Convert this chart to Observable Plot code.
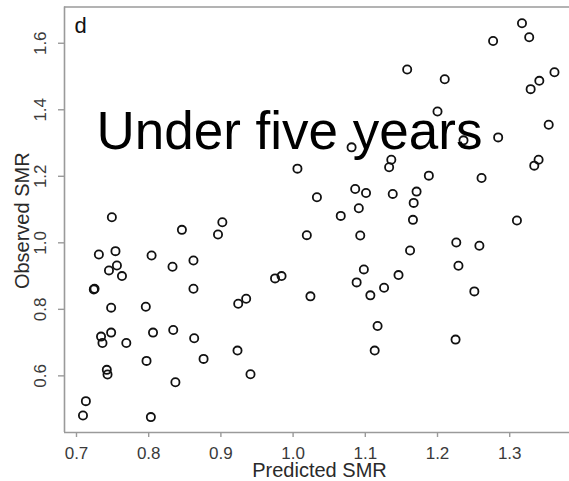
<!DOCTYPE html>
<html>
<head>
<meta charset="utf-8">
<script src="https://cdn.jsdelivr.net/npm/d3@7"></script>
<script src="https://cdn.jsdelivr.net/npm/@observablehq/plot@0.6"></script>
<style>
  html, body { margin: 0; padding: 0; background: #fff; }
</style>
</head>
<body>
<div id="chart"></div>
<script>
// Predicted SMR (x) and observed SMR (y) for each area
const predicted = [
  0.749, 0.846, 0.902, 0.896, 0.731, 0.754, 0.804, 0.833, 0.862, 0.756,
  0.745, 0.763, 0.724, 0.725, 0.862, 0.748, 0.796, 0.734, 0.736, 0.748,
  0.769, 0.806, 0.834, 0.863, 0.797, 0.876, 0.742, 0.743, 0.837, 0.713,
  0.709, 0.803,
  0.975, 0.984, 0.924, 0.935, 1.024, 0.923, 0.941, 1.088, 1.098, 1.107,
  1.126, 1.117, 1.113, 1.081, 1.006, 1.136, 1.133, 1.033, 1.086, 1.101,
  1.138, 1.066, 1.091, 1.019, 1.093,
  1.317, 1.327, 1.277, 1.158, 1.210, 1.362, 1.341, 1.329, 1.200, 1.354,
  1.236, 1.284, 1.340, 1.334, 1.188, 1.261, 1.171, 1.167, 1.166, 1.310,
  1.226, 1.258, 1.162, 1.229, 1.146, 1.251, 1.225
];
const observed = [
  1.077, 1.039, 1.062, 1.025, 0.965, 0.975, 0.962, 0.928, 0.947, 0.932,
  0.917, 0.900, 0.860, 0.862, 0.862, 0.805, 0.808, 0.718, 0.699, 0.730,
  0.699, 0.730, 0.738, 0.713, 0.645, 0.651, 0.618, 0.604, 0.581, 0.524,
  0.481, 0.476,
  0.893, 0.900, 0.817, 0.832, 0.839, 0.676, 0.605, 0.881, 0.920, 0.842,
  0.865, 0.750, 0.676, 1.287, 1.223, 1.250, 1.227, 1.137, 1.162, 1.150,
  1.147, 1.081, 1.104, 1.023, 1.022,
  1.660, 1.618, 1.607, 1.521, 1.492, 1.513, 1.487, 1.462, 1.395, 1.355,
  1.308, 1.317, 1.250, 1.232, 1.202, 1.195, 1.154, 1.120, 1.069, 1.067,
  1.001, 0.991, 0.977, 0.931, 0.903, 0.854, 0.709
];

const xTicks = [0.7, 0.8, 0.9, 1.0, 1.1, 1.2, 1.3];
const xTickLabels = ["0.7", "0.8", "0.9", "1.0", "1.1", "1.2", "1.3"];
const yTicks = [0.6, 0.8, 1.0, 1.2, 1.4, 1.6];
const yTickLabels = ["0.6", "0.8", "1.0", "1.2", "1.4", "1.6"];

const xTitle = "Predicted SMR";
const yTitle = "Observed SMR";
const panelLetter = "d";
const annotation = "Under five years";

const xDomain = [0.6834, 1.3828];
const yDomain = [0.4297, 1.709];

const points = predicted.map((p, i) => ({predicted: p, observed: observed[i]}));

const font = "'Liberation Sans', Arial, Helvetica, sans-serif";
const frameColor = "#9a9a9a";

const chart = Plot.plot({
  width: 569,
  height: 481,
  marginLeft: 64,
  marginRight: 0,
  marginTop: 6.5,
  marginBottom: 49,
  style: {fontFamily: font, background: "#fff", overflow: "visible"},
  x: {domain: xDomain},
  y: {domain: yDomain},
  marks: [
    Plot.ruleY([yDomain[1]], {stroke: frameColor, strokeWidth: 1.6}),
    Plot.ruleY([yDomain[0]], {stroke: frameColor, strokeWidth: 1.6}),
    Plot.ruleX([xDomain[0]], {stroke: frameColor, strokeWidth: 1.6}),
    Plot.axisX({
      ticks: xTicks,
      tickFormat: d => xTickLabels[xTicks.indexOf(d)],
      tickSize: 5,
      tickPadding: 9,
      fontSize: 17,
      stroke: frameColor,
      strokeWidth: 1.4,
      fill: "#3a3a3a",
      label: null
    }),
    Plot.axisY({
      ticks: yTicks,
      tickFormat: d => yTickLabels[yTicks.indexOf(d)],
      tickSize: 6,
      tickPadding: 13,
      tickRotate: -90,
      fontSize: 17,
      stroke: frameColor,
      strokeWidth: 1.4,
      fill: "#3a3a3a",
      label: null
    }),
    Plot.dot(points, {
      x: "predicted",
      y: "observed",
      r: 4.1,
      stroke: "#111",
      strokeWidth: 1.8,
      fill: "none"
    }),
    Plot.text([panelLetter], {
      text: d => d,
      frameAnchor: "top-left",
      textAnchor: "start",
      lineAnchor: "bottom",
      dx: 10,
      dy: 25.8,
      fontSize: 22,
      fill: "#111"
    }),
    Plot.text([annotation], {
      text: d => d,
      frameAnchor: "top-left",
      textAnchor: "start",
      lineAnchor: "bottom",
      dx: 32,
      dy: 141.8,
      fontSize: 53,
      fill: "#000"
    }),
    Plot.text([xTitle], {
      text: d => d,
      frameAnchor: "bottom",
      textAnchor: "middle",
      lineAnchor: "bottom",
      dx: 2.5,
      dy: 44.5,
      fontSize: 20,
      fill: "#2a2a2a",
      ariaLabel: "x-title"
    }),
    Plot.text([yTitle], {
      text: d => d,
      frameAnchor: "left",
      textAnchor: "middle",
      lineAnchor: "bottom",
      rotate: -90,
      dx: -36,
      dy: 1,
      fontSize: 20,
      fill: "#2a2a2a"
    })
  ]
});

d3.select(chart).selectAll('[aria-label="x-title"] text').style("letter-spacing", "1.7px");

document.getElementById("chart").appendChild(chart);
</script>
</body>
</html>
